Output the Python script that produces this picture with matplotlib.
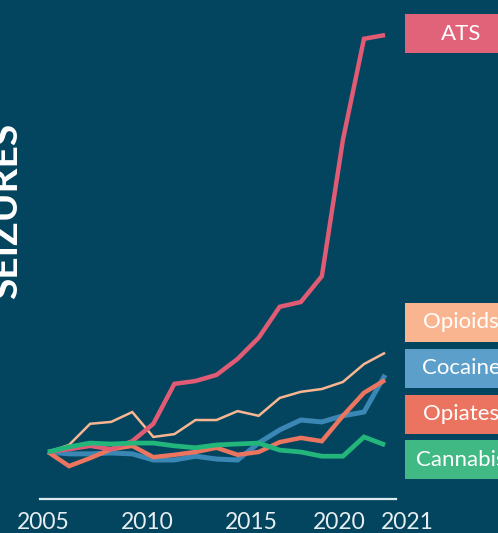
import matplotlib.pyplot as plt
from matplotlib.patches import Rectangle
from matplotlib.transforms import blended_transform_factory

# seizure index, 2005 = 100
years = list(range(2005, 2022))
ats = [100, 106, 113, 106, 123, 160, 245, 251, 264, 298, 343, 409, 419, 474, 764, 979, 987]
opioids = [100, 115, 160, 164, 185, 132, 138, 168, 168, 187, 177, 215, 228, 234, 249, 287, 311]
cocaine = [100, 96, 96, 98, 96, 83, 83, 91, 85, 83, 119, 147, 168, 164, 177, 185, 264]
opiates = [100, 70, 87, 106, 113, 89, 94, 100, 109, 94, 100, 121, 130, 123, 177, 226, 253]
cannabis = [100, 111, 119, 117, 119, 119, 113, 109, 115, 117, 119, 104, 100, 91, 91, 132, 115]

tick_labels = ["2005", "2010", "2015", "2020", "2021"]
legend_labels = ["ATS", "Opioids", "Cocaine", "Opiates", "Cannabis"]

BG = "#03455f"
W, H = 498, 533

fig = plt.figure(figsize=(W / 100, H / 100), dpi=100, facecolor=BG)
ax = fig.add_axes([40 / W, (H - 499) / H, 356 / W, 479 / H])
ax.set_facecolor(BG)

# drawing order: bottom to top
series = [
    (cocaine, "#3a86b4", 3.6),
    (opiates, "#ec7560", 3.2),
    (opioids, "#f9b690", 1.8),
    (ats, "#e15b74", 3.2),
    (cannabis, "#22b67b", 3.4),
]
for vals, col, lw in series:
    ax.plot(years, vals, color=col, lw=lw, solid_joinstyle="miter", solid_capstyle="butt")

ax.set_xlim(2004.62, 2021.52)
ax.set_ylim(0, 1019)
for s in ["top", "right", "left"]:
    ax.spines[s].set_visible(False)
ax.spines["bottom"].set_color("#dfe9ef")
ax.spines["bottom"].set_linewidth(1.6)
ax.set_xticks([])
ax.set_yticks([])

# tick labels sit a bit off the data years in the original
tick_pos = [2004.76, 2009.70, 2014.64, 2018.82, 2022.05]
tr = blended_transform_factory(ax.transData, ax.transAxes)
for p, lab in zip(tick_pos, tick_labels):
    ax.text(p, -0.05, lab, transform=tr, ha="center", va="center",
            color="#e6eef2", fontsize=16.5, family="Lato", clip_on=False)

fig.text(6 / W, 1 - 211 / H, "SEIZURES", rotation=90, ha="center", va="center",
         color="white", fontsize=28, family="Lato", fontweight="bold")

# legend boxes on the right (cut off by the figure edge)
box_cols = ["#e0637a", "#f9b58f", "#5b9fca", "#ea7460", "#40b985"]
box_tops = [14, 303, 349, 395, 440]
for lab, col, top in zip(legend_labels, box_cols, box_tops):
    fig.add_artist(Rectangle((405 / W, 1 - (top + 39) / H), 120 / W, 39 / H,
                             transform=fig.transFigure, facecolor=col, edgecolor="none"))
    fig.text(461 / W, 1 - (top + 19.5) / H, lab, ha="center", va="center",
             color="white", fontsize=16, family="Lato")

fig.savefig("out.png", dpi=100, facecolor=BG)
